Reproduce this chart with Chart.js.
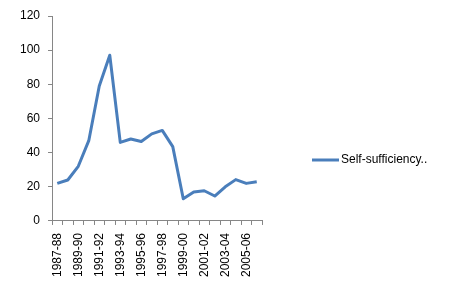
<!DOCTYPE html>
<html>
<head>
<meta charset="utf-8">
<script src="https://cdn.jsdelivr.net/npm/chart.js@4"></script>
<style>
  html, body { margin: 0; padding: 0; background: #fff; }
  #wrap { width: 451px; height: 288px; }
</style>
</head>
<body>
<div id="wrap"><canvas id="chart"></canvas></div>
<script>
// Data
const years = ['1987-88', '1988-89', '1989-90', '1990-91', '1991-92', '1992-93', '1993-94', '1994-95',
    '1995-96', '1996-97', '1997-98', '1998-99', '1999-00', '2000-01', '2001-02', '2002-03',
    '2003-04', '2004-05', '2005-06', '2006-07'];
const selfSufficiency = [22, 24, 32, 47, 79, 97, 46, 48, 46.5, 51, 53, 43.5, 13, 17, 17.7, 14.6, 20, 24.2, 22, 23];
const seriesName = 'Self-sufficiency..';

const axisColor = '#868686';
const lineColor = '#4a7ebb';
const fontFamily = 'Liberation Sans';

// Legend drawn to the right of the plot (built-in legend is capped in width)
const sideLegend = {
    id: 'sideLegend',
    afterDraw(chart) {
        const c = chart.ctx;
        const area = chart.chartArea;
        const x = area.right + 50;
        const y = chart.height / 2 + 16;
        chart.data.datasets.forEach(ds => {
            c.save();
            c.strokeStyle = ds.borderColor;
            c.lineWidth = ds.borderWidth;
            c.beginPath();
            c.moveTo(x, y);
            c.lineTo(x + 27, y);
            c.stroke();
            c.fillStyle = '#000';
            c.font = '12px "' + fontFamily + '"';
            c.textBaseline = 'middle';
            c.fillText(ds.label, x + 29, y);
            c.restore();
        });
    }
};

const ctx = document.getElementById('chart').getContext('2d');
const chart = new Chart(ctx, {
    type: 'line',
    data: {
        labels: years,
        datasets: [{
            label: seriesName,
            data: selfSufficiency,
            borderColor: lineColor,
            backgroundColor: lineColor,
            borderWidth: 3,
            pointRadius: 0,
            tension: 0,
            borderJoinStyle: 'round'
        }]
    },
    options: {
        responsive: true,
        maintainAspectRatio: false,
        animation: false,
        layout: {
            padding: { left: 12, top: 16, right: 189, bottom: 3 }
        },
        plugins: {
            tooltip: { enabled: false },
            legend: { display: false }
        },
        scales: {
            x: {
                offset: true,
                grid: { offset: true, drawOnChartArea: false, tickLength: 4, color: axisColor },
                border: { color: axisColor },
                ticks: {
                    autoSkip: false,
                    minRotation: 90,
                    maxRotation: 90,
                    padding: 8,
                    color: '#000',
                    font: { family: fontFamily, size: 12 },
                    callback: (value, index) => index % 2 === 0 ? years[index] : ''
                }
            },
            y: {
                min: 0,
                max: 120,
                grid: { drawOnChartArea: false, tickLength: 4, color: axisColor },
                border: { color: axisColor },
                ticks: {
                    stepSize: 20,
                    padding: 8,
                    color: '#000',
                    font: { family: fontFamily, size: 12 }
                }
            }
        }
    },
    plugins: [sideLegend]
});
</script>
</body>
</html>
